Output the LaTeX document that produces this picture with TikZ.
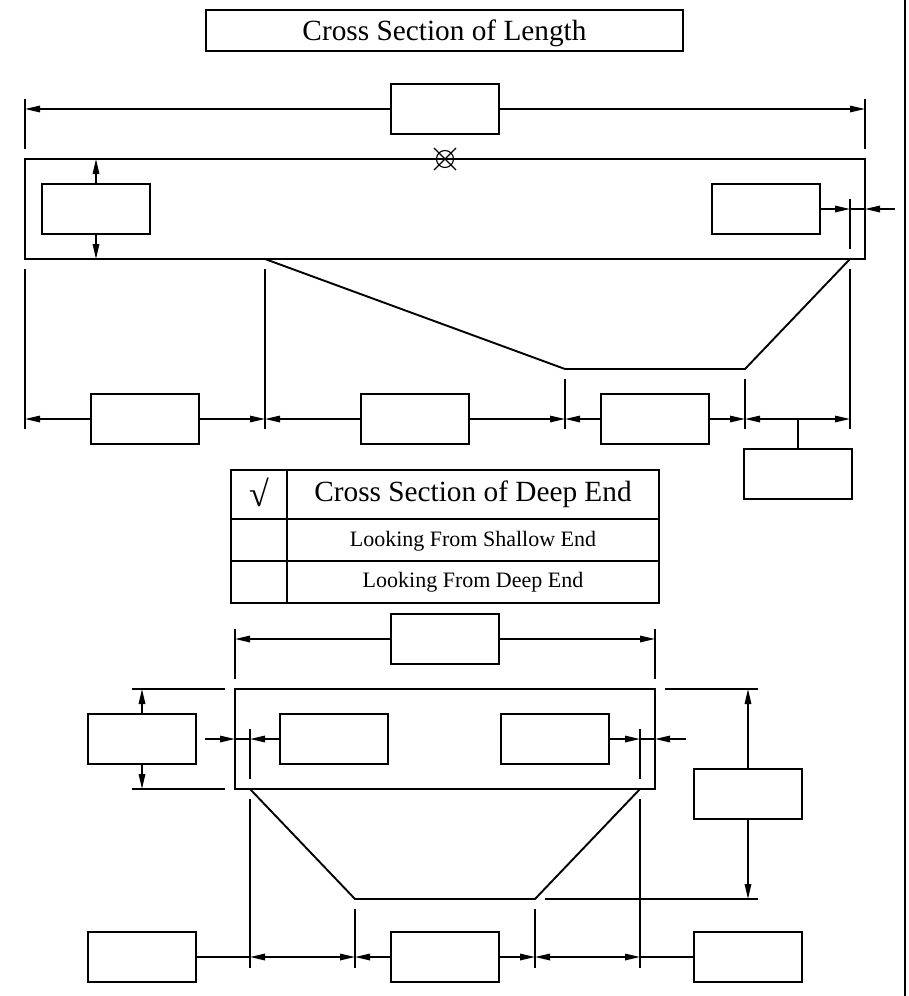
\documentclass[tikz,border=0pt]{standalone}
\usepackage{fontspec}
\setmainfont{Liberation Serif}
\usetikzlibrary{arrows.meta}
\tikzset{
  ln/.style={line width=1.9pt,black},
  blank/.style={draw,line width=1.9pt,minimum width=108pt,minimum height=50pt,inner sep=0pt,outer sep=0pt},
  dim/.style={line width=1.6pt,black,-{Triangle[length=15pt,width=6.5pt]}},
  dimb/.style={line width=1.6pt,black,{Triangle[length=15pt,width=6.5pt]}-{Triangle[length=15pt,width=6.5pt]}},
  plain/.style={line width=1.6pt,black},
  big/.style={font=\fontsize{29.3pt}{30pt}\selectfont,inner sep=0pt,anchor=base},
  small/.style={font=\fontsize{22pt}{24pt}\selectfont,inner sep=0pt,anchor=base},
}
\begin{document}
\begin{tikzpicture}[x=1pt,y=-1pt]
\useasboundingbox (0,0) rectangle (909,996);
\draw[line width=2.4pt] (905,0) -- (905,996);

% title
\node[draw,line width=1.9pt,minimum width=477pt,minimum height=41pt,inner sep=0pt,outer sep=0pt] (titlebox) at (444.5,30.5) {};
\node[big] (titletext) at (444.5,40) {Cross Section of Length};

% ---------- cross section of length
\node[blank] (lenTop) at (445,109) {};
\coordinate (tA1) at (25,99);  \coordinate (tA2) at (25,149);
\coordinate (tB1) at (865,99); \coordinate (tB2) at (865,149);
\coordinate (tAm) at (25,109); \coordinate (tBm) at (865,109);
\draw[ln] (tA1) -- (tA2);
\draw[ln] (tB1) -- (tB2);
\draw[dim] (lenTop.west) -- (tAm);
\draw[dim] (lenTop.east) -- (tBm);

\coordinate (slabTL) at (25,159); \coordinate (slabBR) at (865,259);
\draw[ln] (slabTL) rectangle (slabBR);

% centre marker
\coordinate (mk) at (445,159);
\draw[line width=1.1pt] (mk) circle (8.5pt);
\draw[line width=1.1pt] (434,148) -- (456,170);
\draw[line width=1.1pt] (434,170) -- (456,148);

\node[blank] (thick) at (96,209) {};
\coordinate (thickT) at (96,159); \coordinate (thickB) at (96,259);
\draw[dim] (thick.north) -- (thickT);
\draw[dim] (thick.south) -- (thickB);

\node[blank] (wallR) at (766,209) {};
\coordinate (wrT) at (850,199); \coordinate (wrB) at (850,249);
\coordinate (wrM) at (850,209); \coordinate (wrO) at (895,209); \coordinate (wrE) at (865,209);
\draw[ln] (wrT) -- (wrB);
\draw[dim] (wallR.east) -- (wrM);
\draw[plain] (wrM) -- (wrE);
\draw[dim] (wrO) -- (wrE);

% pool profile
\coordinate (p1) at (265,259); \coordinate (p2) at (565,369);
\coordinate (p3) at (745,369); \coordinate (p4) at (850,259);
\draw[ln,line join=round] (p1) -- (p2) -- (p3) -- (p4);

% ticks
\coordinate (a1) at (25,269);  \coordinate (a2) at (25,429);
\coordinate (b1) at (265,269); \coordinate (b2) at (265,429);
\coordinate (c1) at (565,379); \coordinate (c2) at (565,429);
\coordinate (d1) at (745,379); \coordinate (d2) at (745,429);
\coordinate (e1) at (850,269); \coordinate (e2) at (850,429);
\foreach \u in {a,b,c,d,e} \draw[ln] (\u1) -- (\u2);
\coordinate (am) at (25,419);  \coordinate (bm) at (265,419);
\coordinate (cm) at (565,419); \coordinate (dm) at (745,419);
\coordinate (em) at (850,419); \coordinate (jn) at (798,419);

\node[blank] (seg1) at (145,419) {};
\node[blank] (seg2) at (415,419) {};
\node[blank] (seg3) at (655,419) {};
\node[blank] (seg4) at (798,474) {};
\draw[dim] (seg1.west) -- (am);
\draw[dim] (seg1.east) -- (bm);
\draw[dim] (seg2.west) -- (bm);
\draw[dim] (seg2.east) -- (cm);
\draw[dim] (seg3.west) -- (cm);
\draw[dim] (seg3.east) -- (dm);
\draw[dimb] (dm) -- (em);
\draw[plain] (seg4.north) -- (jn);

% ---------- table
\coordinate (t1) at (231,470); \coordinate (t2) at (659,603);
\coordinate (t3) at (287,470); \coordinate (t4) at (287,603);
\coordinate (t5) at (231,519); \coordinate (t6) at (659,519);
\coordinate (t7) at (231,561); \coordinate (t8) at (659,561);
\draw[line width=2.4pt] (t1) rectangle (t2);
\draw[line width=2.4pt] (t3) -- (t4);
\draw[line width=2pt] (t5) -- (t6);
\draw[line width=2pt] (t7) -- (t8);
\node[font=\fontsize{36pt}{38pt}\selectfont,inner sep=0pt,anchor=base] (chk) at (259,506) {√};
\node[big] (tabhead) at (473,501.5) {Cross Section of Deep End};
\node[small] (tabrow1) at (473,546) {Looking From Shallow End};
\node[small] (tabrow2) at (473,587.5) {Looking From Deep End};

% ---------- cross section of deep end
\node[blank] (widTop) at (445,639) {};
\coordinate (wA1) at (235,629); \coordinate (wA2) at (235,679); \coordinate (wAm) at (235,639);
\coordinate (wB1) at (655,629); \coordinate (wB2) at (655,679); \coordinate (wBm) at (655,639);
\draw[ln] (wA1) -- (wA2);
\draw[ln] (wB1) -- (wB2);
\draw[dim] (widTop.west) -- (wAm);
\draw[dim] (widTop.east) -- (wBm);

\coordinate (s2TL) at (235,689); \coordinate (s2BR) at (655,789);
\draw[ln] (s2TL) rectangle (s2BR);

% left thickness
\node[blank] (thk2) at (142,739) {};
\coordinate (x1a) at (132,689); \coordinate (x1b) at (225,689); \coordinate (x1m) at (142,689);
\coordinate (x2a) at (132,789); \coordinate (x2b) at (225,789); \coordinate (x2m) at (142,789);
\draw[ln] (x1a) -- (x1b);
\draw[ln] (x2a) -- (x2b);
\draw[dim] (thk2.north) -- (x1m);
\draw[dim] (thk2.south) -- (x2m);

% walls
\node[blank] (wl2) at (334,739) {};
\node[blank] (wr2) at (555,739) {};
\coordinate (lo) at (205,739); \coordinate (lr) at (235,739); \coordinate (lt) at (250,739);
\coordinate (lt1) at (250,729); \coordinate (lt2) at (250,779);
\coordinate (ro) at (686,739); \coordinate (rr) at (655,739); \coordinate (rt) at (640,739);
\coordinate (rt1) at (640,729); \coordinate (rt2) at (640,779);
\draw[ln] (lt1) -- (lt2);
\draw[ln] (rt1) -- (rt2);
\draw[dim] (lo) -- (lr);
\draw[plain] (lr) -- (lt);
\draw[dim] (wl2.west) -- (lt);
\draw[dim] (wr2.east) -- (rt);
\draw[plain] (rt) -- (rr);
\draw[dim] (ro) -- (rr);

% profile
\coordinate (q1) at (250,789); \coordinate (q2) at (355,899);
\coordinate (q3) at (535,899); \coordinate (q4) at (640,789);
\draw[ln,line join=round] (q1) -- (q2) -- (q3) -- (q4);

% depth
\node[blank] (depth) at (748,794) {};
\coordinate (y1a) at (665,689); \coordinate (y1b) at (758,689); \coordinate (y1m) at (748,689);
\coordinate (y2a) at (545,899); \coordinate (y2b) at (758,899); \coordinate (y2m) at (748,899);
\draw[ln] (y1a) -- (y1b);
\draw[ln] (y2a) -- (y2b);
\draw[dim] (depth.north) -- (y1m);
\draw[dim] (depth.south) -- (y2m);

% bottom dimensions
\coordinate (f1) at (250,799); \coordinate (f2) at (250,968); \coordinate (fm) at (250,957);
\coordinate (g1) at (355,909); \coordinate (g2) at (355,968); \coordinate (gm) at (355,957);
\coordinate (h1) at (535,909); \coordinate (h2) at (535,968); \coordinate (hm) at (535,957);
\coordinate (k1) at (640,799); \coordinate (k2) at (640,968); \coordinate (km) at (640,957);
\foreach \u in {f,g,h,k} \draw[ln] (\u1) -- (\u2);
\node[blank] (bot1) at (142,957) {};
\node[blank] (bot2) at (445,957) {};
\node[blank] (bot3) at (748,957) {};
\draw[plain] (bot1.east) -- (fm);
\draw[dimb] (fm) -- (gm);
\draw[dim] (bot2.west) -- (gm);
\draw[dim] (bot2.east) -- (hm);
\draw[dimb] (hm) -- (km);
\draw[plain] (km) -- (bot3.west);
\end{tikzpicture}
\end{document}
